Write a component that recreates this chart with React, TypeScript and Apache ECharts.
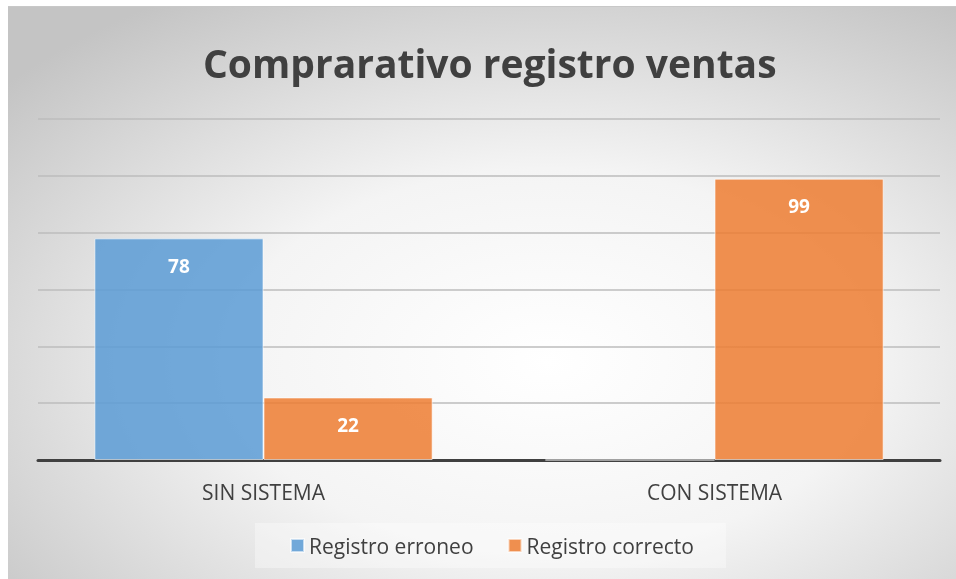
import React, { useEffect, useRef } from "react";
import * as echarts from "echarts";

const categories = ["SIN SISTEMA", "CON SISTEMA"];
const seriesNames = ["Registro erroneo", "Registro correcto"];
const erroneo = [78, 0];
const correcto = [22, 99];
const axisMax = 120;
const axisInterval = 20;

export default function App() {
  const ref = useRef<HTMLDivElement>(null);
  useEffect(() => {
    if (!ref.current) return;
    const chart = echarts.init(ref.current, null, { renderer: "svg" });
    const font = "'Open Sans', sans-serif";
    chart.setOption({
      animation: false,
      backgroundColor: new echarts.graphic.RadialGradient(0.57, 0.62, 0.75, [
        { offset: 0, color: "#ffffff" },
        { offset: 0.45, color: "#f4f4f4" },
        { offset: 1, color: "#c4c4c4" },
      ]),
      title: {
        text: "Comprarativo registro ventas",
        left: 190,
        top: 31,
        textStyle: { fontFamily: font, fontSize: 39, fontWeight: "bold", color: "#404040" },
      },
      legend: {
        data: seriesNames,
        left: 247,
        top: 516,
        icon: "rect",
        itemWidth: 13,
        itemHeight: 13,
        itemGap: 34,
        padding: [12, 32, 12, 35],
        backgroundColor: "rgba(255,255,255,0.35)",
        textStyle: { fontFamily: font, fontSize: 21, color: "#404040" },
      },
      grid: { left: 30, right: 16, top: 112, bottom: 119, containLabel: false },
      xAxis: {
        type: "category",
        data: categories,
        axisLine: { lineStyle: { color: "#404040", width: 3 } },
        axisTick: { show: false },
        axisLabel: { fontFamily: font, fontSize: 21, color: "#404040", margin: 21 },
      },
      yAxis: {
        type: "value",
        min: 0,
        max: axisMax,
        interval: axisInterval,
        axisLabel: { show: false },
        axisLine: { show: false },
        axisTick: { show: false },
        splitLine: { lineStyle: { color: "#bdbdbd", width: 1.5 } },
      },
      series: [
        {
          name: seriesNames[0],
          type: "bar",
          data: erroneo,
          barWidth: "37.5%",
          barGap: "0%",
          itemStyle: { color: "rgba(91,155,213,0.85)", borderColor: "rgba(255,255,255,0.6)", borderWidth: 1 },
          label: {
            show: true,
            position: "insideTop",
            distance: 18,
            fontFamily: font,
            fontSize: 19,
            fontWeight: "bold",
            color: "#ffffff",
            formatter: (p: any) => (p.value === 0 ? "" : String(p.value)),
          },
        },
        {
          name: seriesNames[1],
          type: "bar",
          data: correcto,
          barWidth: "37.5%",
          itemStyle: { color: "rgba(237,125,49,0.85)", borderColor: "rgba(255,255,255,0.6)", borderWidth: 1 },
          label: {
            show: true,
            position: "insideTop",
            distance: 18,
            fontFamily: font,
            fontSize: 19,
            fontWeight: "bold",
            color: "#ffffff",
          },
        },
      ],
    });
    return () => chart.dispose();
  }, []);
  return (
    <div
      ref={ref}
      style={{ width: 948, height: 573, position: "fixed", left: 8, top: 6, borderTop: "1px solid #c8c8c8", boxSizing: "border-box" }}
    />
  );
}
